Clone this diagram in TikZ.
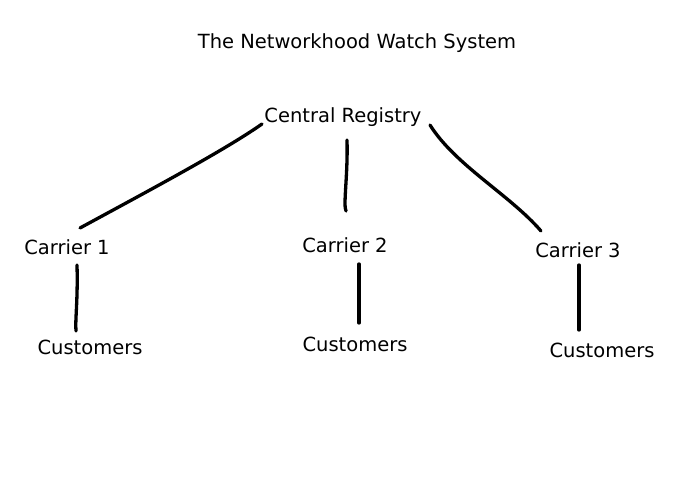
\documentclass[tikz,border=0pt]{standalone}
\usepackage{fontspec}
\setmainfont{DejaVu Sans}
\usetikzlibrary{positioning}
\begin{document}
\begin{tikzpicture}[x=1pt,y=-1pt,
	label/.style={font=\fontsize{19.5}{23}\selectfont,inner sep=1pt},
	stroke/.style={line width=3.3pt,line cap=round}
]
\useasboundingbox (0,0) rectangle (695,494);

\node (title) [label] at (357,43) {The Networkhood Watch System};
\node (central) [label] at (343,117) {Central Registry};
% carriers
\node (car1) [label] at (67,247) {Carrier 1};
\node (car2) [label] at (345,245) {Carrier 2};
\node (car3) [label] at (578,250) {Carrier 3};
% customers
\node (cust1) [label] at (90,347) {Customers};
\node (cust2) [label] at (355,344) {Customers};
\node (cust3) [label] at (602,350) {Customers};

% line ends
\coordinate (crA) at (262,124);
\coordinate (crB) at (347,140);
\coordinate (crC) at (430,125);
\coordinate (c1top) at (80,228);
\coordinate (c2top) at (346,211);
\coordinate (c3top) at (541,231);
\coordinate (c1bot) at (77,265);
\coordinate (c2bot) at (359,264);
\coordinate (c3bot) at (579,265);
\coordinate (u1top) at (76,331);
\coordinate (u2top) at (359,323);
\coordinate (u3top) at (579,330);

\draw[stroke] (crA) .. controls (225,150) and (150,190) .. (c1top);
\draw[stroke] (crB) .. controls (348,175) and (343,205) .. (c2top);
\draw[stroke] (crC) .. controls (455,165) and (510,195) .. (c3top);
\draw[stroke] (c1bot) .. controls (78,300) and (75,320) .. (u1top);
\draw[stroke] (c2bot) -- (u2top);
\draw[stroke] (c3bot) -- (u3top);
\end{tikzpicture}
\end{document}
